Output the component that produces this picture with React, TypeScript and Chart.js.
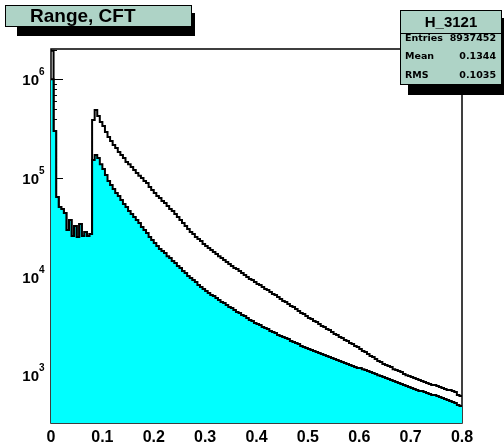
import { useEffect, useRef } from "react";
import { Chart, registerables } from "chart.js";

Chart.register(...registerables);

// Histogram binning (x axis)
const X_MIN = 0;
const X_MAX = 0.8;
const BIN_W = 0.005;

// Log y range of the pad
const Y_MIN = 327;
const Y_MAX = 2.03e6;

const X_TICKS = [0, 0.1, 0.2, 0.3, 0.4, 0.5, 0.6, 0.7, 0.8];
const X_TICK_LABELS = ["0", "0.1", "0.2", "0.3", "0.4", "0.5", "0.6", "0.7", "0.8"];
const Y_DECADES = [3, 4, 5, 6];

const PAD_TITLE = "Range, CFT";
const STAT_NAME = "H_3121";
const STAT_ROWS: [string, string][] = [
  ["Entries", "8937452"],
  ["Mean", "0.1344"],
  ["RMS", "0.1035"],
];

// All entries (black outline)
const ALL_COUNTS = [
  1.95e6, 3.0e5, 6.4e4, 5.07e4, 4.84e4, 4.41e4, 2.96e4, 3.74e4, 2.58e4, 3.25e4,
  2.52e4, 3.41e4, 2.58e4, 2.83e4, 2.58e4, 2.7e4, 3.87e5, 4.88e5, 4.24e5, 3.69e5,
  3.36e5, 2.92e5, 2.6e5, 2.37e5, 2.16e5, 2.01e5, 1.83e5, 1.71e5, 1.59e5, 1.45e5,
  1.38e5, 1.29e5, 1.2e5, 1.12e5, 1.05e5, 9.98e4, 9.3e4, 8.88e4, 8.09e4, 7.54e4,
  7.03e4, 6.55e4, 6.25e4, 5.83e4, 5.57e4, 5.19e4, 4.84e4, 4.62e4, 4.3e4, 4.01e4,
  3.74e4, 3.49e4, 3.25e4, 3.03e4, 2.83e4, 2.7e4, 2.52e4, 2.4e4, 2.29e4, 2.14e4,
  2.04e4, 1.95e4, 1.86e4, 1.77e4, 1.69e4, 1.61e4, 1.54e4, 1.47e4, 1.4e4, 1.34e4,
  1.28e4, 1.22e4, 1.19e4, 1.14e4, 1.085e4, 1.036e4, 9880, 9430, 9210, 8800,
  8390, 8200, 7830, 7470, 7300, 6960, 6640, 6490, 6200, 5910,
  5640, 5510, 5260, 5020, 4910, 4680, 4470, 4260, 4170, 3980,
  3790, 3710, 3540, 3460, 3300, 3150, 3070, 2930, 2870, 2740,
  2610, 2550, 2430, 2380, 2270, 2220, 2120, 2070, 1970, 1930,
  1840, 1760, 1720, 1640, 1560, 1530, 1460, 1390, 1360, 1300,
  1270, 1240, 1210, 1150, 1130, 1100, 1075, 1026, 1000, 979,
  956, 935, 913, 892, 871, 851, 832, 812, 794, 794,
  775, 757, 740, 723, 706, 706, 690, 674, 628, 614,
];

// Selected entries (cyan filled)
const SELECTED_COUNTS = [
  1.0e6, 3.0e5, 6.4e4, 5.07e4, 4.84e4, 4.41e4, 2.96e4, 3.74e4, 2.58e4, 3.25e4,
  2.52e4, 3.41e4, 2.58e4, 2.83e4, 2.58e4, 2.7e4, 1.52e5, 1.71e5, 1.59e5, 1.38e5,
  1.23e5, 1.07e5, 9.3e4, 8.47e4, 7.72e4, 7.03e4, 6.55e4, 5.97e4, 5.44e4, 5.07e4,
  4.62e4, 4.3e4, 4.01e4, 3.74e4, 3.49e4, 3.18e4, 2.96e4, 2.76e4, 2.52e4, 2.35e4,
  2.19e4, 2.04e4, 1.9e4, 1.81e4, 1.73e4, 1.61e4, 1.54e4, 1.44e4, 1.37e4, 1.28e4,
  1.22e4, 1.14e4, 1.085e4, 1.012e4, 9650, 9210, 8800, 8200, 7830, 7470,
  7130, 6800, 6490, 6340, 6050, 5780, 5510, 5380, 5140, 4910,
  4790, 4570, 4370, 4260, 4070, 3980, 3790, 3620, 3540, 3380,
  3300, 3220, 3070, 3000, 2930, 2800, 2740, 2670, 2550, 2490,
  2430, 2380, 2320, 2220, 2170, 2120, 2070, 1970, 1930, 1880,
  1840, 1800, 1760, 1720, 1680, 1640, 1600, 1560, 1530, 1490,
  1460, 1420, 1390, 1360, 1330, 1300, 1270, 1240, 1210, 1180,
  1180, 1150, 1130, 1100, 1075, 1050, 1026, 1000, 979, 956,
  935, 913, 892, 871, 851, 832, 812, 794, 775, 757,
  740, 723, 706, 690, 690, 674, 658, 643, 628, 628,
  614, 600, 586, 572, 559, 546, 534, 521, 497, 486,
];

const PAVE_FILL = "#aed3c6";

// Bin low edges plus the closing upper edge, for a step-before line
function histPoints(counts: number[]) {
  const pts = counts.map((c, i) => ({ x: X_MIN + i * BIN_W, y: c }));
  pts.push({ x: X_MAX, y: counts[counts.length - 1] });
  return pts;
}

const rootPad = {
  id: "rootPad",
  beforeDatasetsDraw(chart: any) {
    const { ctx, chartArea: a, scales } = chart;
    const y = scales.y;
    ctx.save();
    ctx.strokeStyle = "#000";
    ctx.lineWidth = 1.5;
    ctx.strokeRect(a.left, a.top, a.right - a.left, a.bottom - a.top);
    // inward log ticks on the left axis
    ctx.lineWidth = 1;
    for (let d = 2; d <= 6; d++) {
      for (let m = 1; m <= 9; m++) {
        const v = m * Math.pow(10, d);
        if (v < Y_MIN || v > Y_MAX) continue;
        const py = Math.round(y.getPixelForValue(v)) + 0.5;
        ctx.beginPath();
        ctx.moveTo(a.left, py);
        ctx.lineTo(a.left + (m === 1 ? 12 : 6), py);
        ctx.stroke();
      }
    }
    ctx.restore();
  },
  afterDraw(chart: any) {
    const { ctx, chartArea: a, scales } = chart;
    const xs = scales.x;
    const ys = scales.y;
    ctx.save();
    ctx.fillStyle = "#000";

    // x labels
    ctx.font = "bold 16px 'Liberation Sans', Arial, sans-serif";
    ctx.textAlign = "center";
    ctx.textBaseline = "middle";
    X_TICKS.forEach((t, i) => {
      ctx.fillText(X_TICK_LABELS[i], xs.getPixelForValue(t), a.bottom + 15);
    });

    // y labels: 10 with exponent
    Y_DECADES.forEach((d) => {
      const py = ys.getPixelForValue(Math.pow(10, d));
      ctx.font = "bold 15px 'Liberation Sans', Arial, sans-serif";
      ctx.textAlign = "right";
      ctx.textBaseline = "alphabetic";
      ctx.fillText("10", 39, py + 6);
      ctx.font = "bold 10px 'Liberation Sans', Arial, sans-serif";
      ctx.textAlign = "left";
      ctx.fillText(String(d), 39, py - 4);
    });

    // title pave with shadow
    ctx.fillStyle = "#000";
    ctx.fillRect(17, 13, 178, 23);
    ctx.fillStyle = PAVE_FILL;
    ctx.fillRect(5, 5, 187, 22);
    ctx.strokeStyle = "#000";
    ctx.lineWidth = 1;
    ctx.strokeRect(5.5, 5.5, 186, 21);
    ctx.fillStyle = "#000";
    ctx.font = "bold 19px 'Liberation Sans', Arial, sans-serif";
    ctx.textAlign = "left";
    ctx.textBaseline = "middle";
    ctx.fillText(PAD_TITLE, 30, 17);

    // statistics box with shadow
    ctx.fillStyle = "#000";
    ctx.fillRect(408, 18, 96, 77);
    ctx.fillStyle = PAVE_FILL;
    ctx.fillRect(400, 10, 102, 75);
    ctx.strokeRect(400.5, 10.5, 101, 74);
    ctx.beginPath();
    ctx.moveTo(400, 33.5);
    ctx.lineTo(502, 33.5);
    ctx.stroke();
    ctx.fillStyle = "#000";
    ctx.font = "bold 15px 'Liberation Sans', Arial, sans-serif";
    ctx.textAlign = "center";
    ctx.fillText(STAT_NAME, 451, 23);
    ctx.font = "bold 9.5px 'DejaVu Sans', sans-serif";
    const rowY = [39, 57, 76];
    STAT_ROWS.forEach(([k, v], i) => {
      ctx.textAlign = "left";
      ctx.fillText(k, 405, rowY[i]);
      ctx.textAlign = "right";
      ctx.fillText(v, 496, rowY[i]);
    });
    ctx.restore();
  },
};

export default function App() {
  const canvasRef = useRef<HTMLCanvasElement | null>(null);

  useEffect(() => {
    const canvas = canvasRef.current;
    if (!canvas) return;
    const chart = new Chart(canvas, {
      type: "line",
      data: {
        datasets: [
          {
            label: "selected",
            data: histPoints(SELECTED_COUNTS),
            stepped: "before",
            fill: "start",
            backgroundColor: "#00ffff",
            borderColor: "#000000",
            borderWidth: 2,
            pointRadius: 0,
            order: 0,
          },
          {
            label: "all",
            data: histPoints(ALL_COUNTS),
            stepped: "before",
            fill: false,
            borderColor: "#000000",
            borderWidth: 2,
            pointRadius: 0,
            order: 1,
          },
        ],
      },
      options: {
        responsive: false,
        maintainAspectRatio: false,
        animation: false,
        devicePixelRatio: 1,
        parsing: false as any,
        layout: { padding: { left: 51, right: 42, top: 49, bottom: 22 } },
        scales: {
          x: { type: "linear", min: X_MIN, max: X_MAX, display: false },
          y: { type: "logarithmic", min: Y_MIN, max: Y_MAX, display: false },
        },
        plugins: {
          legend: { display: false },
          tooltip: { enabled: false },
        },
      },
      plugins: [rootPad],
    });
    return () => chart.destroy();
  }, []);

  return (
    <div style={{ position: "absolute", left: 0, top: 0, width: 504, height: 445, background: "#fff" }}>
      <canvas ref={canvasRef} width={504} height={445} style={{ display: "block" }} />
    </div>
  );
}
